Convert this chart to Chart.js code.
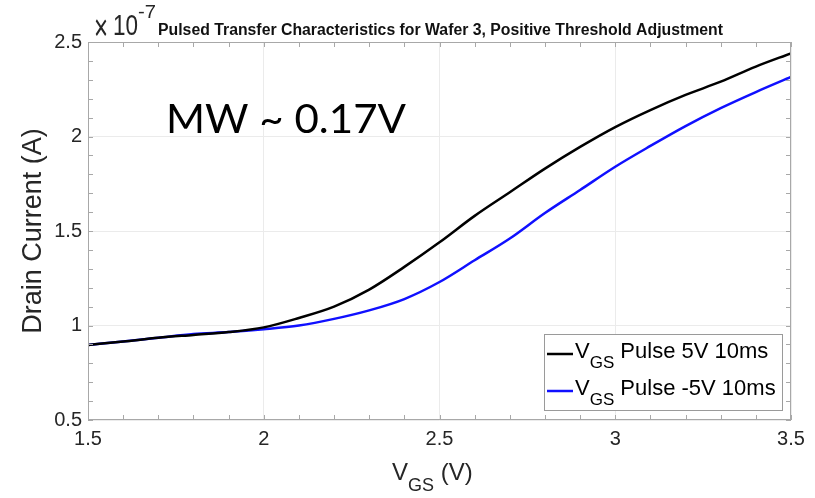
<!DOCTYPE html>
<html>
<head>
<meta charset="utf-8">
<script src="https://cdn.jsdelivr.net/npm/chart.js@4.4.1/dist/chart.umd.min.js"></script>
<style>
  html, body { margin: 0; padding: 0; background: #fff; }
  #wrap { width: 815px; height: 498px; position: relative; }
</style>
</head>
<body>
<div id="wrap"><canvas id="chart"></canvas></div>
<script>
// gate voltage sweep (V) and drain current (x1e-7 A)
const vgs = [1.5, 1.6, 1.7, 1.8, 1.9, 2.0, 2.1, 2.2, 2.3, 2.4, 2.5, 2.6, 2.7, 2.8, 2.9, 3.0, 3.1, 3.2, 3.3, 3.4, 3.5];
const pulsePos = [0.897, 0.915, 0.935, 0.950, 0.965, 0.990, 1.040, 1.100, 1.190, 1.310, 1.440, 1.580, 1.705, 1.830, 1.945, 2.050, 2.140, 2.220, 2.290, 2.370, 2.440];
const pulseNeg = [0.897, 0.915, 0.935, 0.955, 0.965, 0.980, 1.000, 1.035, 1.080, 1.140, 1.230, 1.345, 1.460, 1.595, 1.717, 1.840, 1.950, 2.055, 2.150, 2.235, 2.315];
const seriesNames = ["Pulse 5V 10ms", "Pulse -5V 10ms"];
const seriesColors = ["#000000", "#1010ff"];
const xTicks = [1.5, 2, 2.5, 3, 3.5];
const yTicks = [0.5, 1, 1.5, 2, 2.5];

const FONT = "'Liberation Sans', Arial, sans-serif";
const TEXT = "#262626";
const FRAME = "#a8a8a8";

function pts(ys) {
  return vgs.map((v, i) => ({ x: v, y: ys[i] }));
}

// draw text squeezed/stretched to a target width
function fitText(ctx, text, x, y, width) {
  const w = ctx.measureText(text).width;
  ctx.save();
  ctx.translate(x, y);
  ctx.scale(width / w, 1);
  ctx.fillText(text, 0, 0);
  ctx.restore();
}

// "V" + subscript "GS" + rest, returns end x
function vgsLabel(ctx, x, y, size, rest) {
  ctx.font = `${size}px ${FONT}`;
  ctx.fillText("V", x, y);
  x += ctx.measureText("V").width;
  const sub = Math.round(size * 0.75);
  ctx.font = `${sub}px ${FONT}`;
  ctx.fillText("GS", x, y + size * 0.45);
  x += ctx.measureText("GS").width;
  ctx.font = `${size}px ${FONT}`;
  ctx.fillText(rest, x, y);
  return x + ctx.measureText(rest).width;
}

const decor = {
  id: "decor",
  afterDraw(chart) {
    const { ctx, chartArea: a, scales } = chart;
    const xs = scales.x, ys = scales.y;
    ctx.save();

    // frame + inward ticks on all four sides
    ctx.strokeStyle = FRAME;
    ctx.lineWidth = 1;
    ctx.strokeRect(a.left + 0.5, a.top + 0.5, a.right - a.left - 1, a.bottom - a.top - 1);
    ctx.beginPath();
    for (let i = 0; i <= 20; i++) {
      const px = Math.round(xs.getPixelForValue(1.5 + i * 0.1)) + 0.5;
      ctx.moveTo(px, a.bottom); ctx.lineTo(px, a.bottom - 5);
      ctx.moveTo(px, a.top); ctx.lineTo(px, a.top + 5);
      const py = Math.round(ys.getPixelForValue(0.5 + i * 0.1)) + 0.5;
      ctx.moveTo(a.left, py); ctx.lineTo(a.left + 5, py);
      ctx.moveTo(a.right, py); ctx.lineTo(a.right - 5, py);
    }
    ctx.stroke();

    ctx.fillStyle = TEXT;
    ctx.textBaseline = "alphabetic";
    ctx.textAlign = "left";

    // exponent
    ctx.font = `36px ${FONT}`;
    fitText(ctx, "\u00d7", a.left + 6, a.top - 2, 14);
    ctx.font = `30px ${FONT}`;
    fitText(ctx, "10", a.left + 25, a.top - 7, 25);
    ctx.font = `19px ${FONT}`;
    fitText(ctx, "-7", a.left + 50, a.top - 24, 18);

    // title
    ctx.fillStyle = "#111";
    ctx.font = `bold 16px ${FONT}`;
    fitText(ctx, "Pulsed Transfer Characteristics for Wafer 3, Positive Threshold Adjustment", a.left + 70, a.top - 7, 565);

    // annotation
    ctx.fillStyle = "#000";
    ctx.font = `40px Lato, 'Open Sans', sans-serif`;
    fitText(ctx, "MW ~ 0.17V", a.left + 78, a.top + 91, 240);

    // x axis title
    ctx.fillStyle = TEXT;
    vgsLabel(ctx, a.left + 304, 480, 24, " (V)");

    // legend
    const lx = a.right - 247, ly = a.bottom - 86, lw = 238, lh = 76;
    ctx.fillStyle = "#fff";
    ctx.fillRect(lx, ly, lw, lh);
    ctx.strokeStyle = "#9a9a9a";
    ctx.strokeRect(lx + 0.5, ly + 0.5, lw, lh);
    seriesNames.forEach((name, i) => {
      const y = ly + 20 + i * 37;
      ctx.strokeStyle = seriesColors[i];
      ctx.lineWidth = 2.5;
      ctx.beginPath();
      ctx.moveTo(lx + 3, y); ctx.lineTo(lx + 29, y);
      ctx.stroke();
      ctx.fillStyle = "#000";
      vgsLabel(ctx, lx + 31, y + 4, 22, " " + name);
    });

    ctx.restore();
  }
};

new Chart(document.getElementById("chart"), {
  type: "line",
  data: {
    datasets: [
      { label: seriesNames[0], data: pts(pulsePos), borderColor: seriesColors[0] },
      { label: seriesNames[1], data: pts(pulseNeg), borderColor: seriesColors[1] }
    ].map((ds) => ({ borderWidth: 2.5, pointRadius: 0, cubicInterpolationMode: "monotone", fill: false, ...ds }))
  },
  options: {
    responsive: true,
    maintainAspectRatio: false,
    animation: false,
    layout: { padding: { left: 0, right: 24, top: 42, bottom: 0 } },
    plugins: { legend: { display: false }, tooltip: { enabled: false }, title: { display: false } },
    scales: {
      x: {
        type: "linear",
        min: xTicks[0],
        max: xTicks[xTicks.length - 1],
        afterFit: (s) => { s.height = 78; },
        afterBuildTicks: (s) => { s.ticks = xTicks.map((v) => ({ value: v })); },
        grid: { color: "#ebebeb", drawTicks: false },
        border: { display: false },
        ticks: { color: TEXT, padding: 7, font: { family: FONT, size: 20 }, callback: (v) => String(v) }
      },
      y: {
        type: "linear",
        min: yTicks[0],
        max: yTicks[yTicks.length - 1],
        afterFit: (s) => { s.width = 88; },
        afterBuildTicks: (s) => { s.ticks = yTicks.map((v) => ({ value: v })); },
        grid: { color: "#ebebeb", drawTicks: false },
        border: { display: false },
        title: { display: true, text: "Drain Current (A)", color: TEXT, font: { family: FONT, size: 27 }, padding: { top: 17 } },
        ticks: { color: TEXT, padding: 6, font: { family: FONT, size: 20 }, callback: (v) => String(v) }
      }
    }
  },
  plugins: [decor]
});
</script>
</body>
</html>
